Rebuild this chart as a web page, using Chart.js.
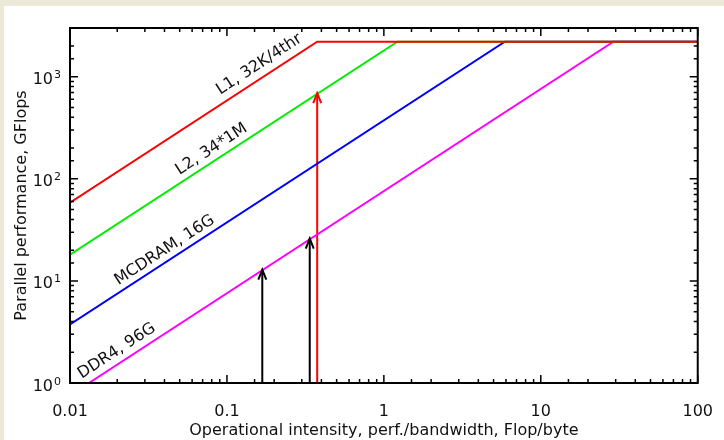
<!DOCTYPE html>
<html><head><meta charset="utf-8">
<script src="https://cdn.jsdelivr.net/npm/chart.js@4/dist/chart.umd.min.js"></script>
<style>html,body{margin:0;padding:0;background:#ede9d8;}canvas{display:block;}</style>
</head><body>
<canvas id="c" width="724" height="440"></canvas>
<script>
// ---- data ----
const seriesNames = ['L1, 32K/4thr', 'L2, 34*1M', 'MCDRAM, 16G', 'DDR4, 96G'];
const l1X = [0.01, 0.376, 100];
const l1Y = [58.5, 2200, 2200];
const l2X = [0.01, 1.22, 100];
const l2Y = [18.1, 2200, 2200];
const mcdramX = [0.01, 5.9, 100];
const mcdramY = [3.75, 2200, 2200];
const ddr4X = [0.0132, 29, 100];
const ddr4Y = [1, 2200, 2200];
const arrowX = [0.168, 0.337, 0.376];
const arrowBottom = [1, 1, 1];
const arrowTop = [12.9, 26, 690];
const xTickLabels = ['0.01', '0.1', '1', '10', '100'];
const yTickBase = '10';
const yTickExp = ['0', '1', '2', '3'];
const labelAnchorX = [0.1607, 0.0798, 0.0401, 0.01987];
const labelAnchorY = [1322, 195, 20.0, 2.06];

// ---- styles ----
const lineColors = ['#ff0000', '#00ee00', '#0000ff', '#ff00ff'];
const arrowColors = ['#000000', '#000000', '#ff0000'];
const FONT = 'DejaVu Sans';
const TEXT = '#111';

const toPts = (xs, ys) => xs.map((x, i) => ({x: x, y: ys[i]}));
const seriesX = [l1X, l2X, mcdramX, ddr4X];
const seriesY = [l1Y, l2Y, mcdramY, ddr4Y];

const datasets = [];
seriesX.forEach((xs, i) => {
  datasets.push({label: seriesNames[i], data: toPts(xs, seriesY[i]), borderColor: lineColors[i],
    borderWidth: 2, pointRadius: 0, tension: 0, fill: false});
});
arrowX.forEach((ax, i) => {
  datasets.push({label: 'arrow' + i, isArrow: true, data: [{x: ax, y: arrowBottom[i]}, {x: ax, y: arrowTop[i]}],
    borderColor: arrowColors[i], borderWidth: 2, pointRadius: 0, fill: false});
});

const isMajor = v => Math.abs(Math.log10(v) - Math.round(Math.log10(v))) < 1e-6;

const bgPlugin = {
  id: 'bg',
  beforeDraw(chart) {
    const ctx = chart.ctx;
    ctx.save();
    ctx.fillStyle = '#ede9d8';
    ctx.fillRect(0, 0, chart.width, chart.height);
    ctx.fillStyle = '#ffffff';
    ctx.fillRect(4, 6, chart.width - 4, chart.height - 6);
    ctx.restore();
  }
};

const framePlugin = {
  id: 'frame',
  afterDatasetsDraw(chart) {
    const {ctx, chartArea: {left, right, top, bottom}, scales: {x, y}} = chart;
    ctx.save();
    // arrow heads
    chart.data.datasets.forEach((ds) => {
      if (!ds.isArrow) return;
      const p = ds.data[1];
      const px = x.getPixelForValue(p.x), py = y.getPixelForValue(p.y);
      ctx.strokeStyle = ds.borderColor;
      ctx.lineWidth = 2;
      ctx.beginPath();
      ctx.moveTo(px - 4, py + 10);
      ctx.lineTo(px, py);
      ctx.lineTo(px + 4, py + 10);
      ctx.stroke();
    });
    // annotations along the roofs
    const ang = Math.atan2(y.getPixelForValue(10) - y.getPixelForValue(1), x.getPixelForValue(10) - x.getPixelForValue(1));
    ctx.fillStyle = TEXT;
    ctx.font = '16px "' + FONT + '"';
    ctx.textAlign = 'center';
    ctx.textBaseline = 'middle';
    seriesNames.forEach((t, i) => {
      ctx.save();
      ctx.translate(x.getPixelForValue(labelAnchorX[i]), y.getPixelForValue(labelAnchorY[i]));
      ctx.rotate(ang);
      ctx.fillText(t, 0, 0);
      ctx.restore();
    });
    // y tick labels with superscript exponents
    ctx.textAlign = 'right';
    ctx.textBaseline = 'alphabetic';
    const xr = left - 9;
    y.ticks.forEach(t => {
      if (!isMajor(t.value)) return;
      const k = Math.round(Math.log10(t.value));
      const py = y.getPixelForValue(t.value);
      ctx.font = '11px "' + FONT + '"';
      const e = yTickExp[k];
      const ew = ctx.measureText(e).width;
      ctx.fillText(e, xr, py + 1.5);
      ctx.font = '16px "' + FONT + '"';
      ctx.fillText(yTickBase, xr - ew - 1, py + 7.5);
    });
    // inward ticks on all four sides
    ctx.strokeStyle = '#000';
    ctx.lineWidth = 1.5;
    ctx.beginPath();
    x.ticks.forEach(t => {
      const px = x.getPixelForValue(t.value);
      const L = isMajor(t.value) ? 8 : 4;
      ctx.moveTo(px, bottom); ctx.lineTo(px, bottom - L);
      ctx.moveTo(px, top); ctx.lineTo(px, top + L);
    });
    y.ticks.forEach(t => {
      const py = y.getPixelForValue(t.value);
      const L = isMajor(t.value) ? 8 : 4;
      ctx.moveTo(left, py); ctx.lineTo(left + L, py);
      ctx.moveTo(right, py); ctx.lineTo(right - L, py);
    });
    ctx.stroke();
    ctx.lineWidth = 2;
    ctx.strokeRect(left, top, right - left, bottom - top);
    ctx.restore();
  }
};

Chart.defaults.font.family = FONT;
Chart.defaults.font.size = 16;
Chart.defaults.color = TEXT;

new Chart(document.getElementById('c'), {
  type: 'line',
  data: {datasets: datasets},
  plugins: [bgPlugin, framePlugin],
  options: {
    responsive: false,
    animation: false,
    devicePixelRatio: 1,
    layout: {padding: {top: 28, right: 24, left: 0, bottom: 0}},
    plugins: {legend: {display: false}, tooltip: {enabled: false}},
    scales: {
      x: {
        type: 'logarithmic', min: 0.01, max: 100,
        grid: {display: false}, border: {display: false},
        ticks: {autoSkip: false, maxRotation: 0, minRotation: 0, padding: 11,
          callback: v => isMajor(v) ? xTickLabels[Math.round(Math.log10(v)) + 2] : ''},
        title: {display: true, text: 'Operational intensity, perf./bandwidth, Flop/byte', padding: {top: 0, bottom: 0}},
        afterFit(s) { s.height = 57; }
      },
      y: {
        type: 'logarithmic', min: 1, max: 3000,
        grid: {display: false}, border: {display: false},
        ticks: {display: false, autoSkip: false},
        title: {display: true, text: 'Parallel performance, GFlops', padding: {top: 12.5, bottom: 0}},
        afterFit(s) { s.width = 70; }
      }
    }
  }
});
</script>
</body></html>
